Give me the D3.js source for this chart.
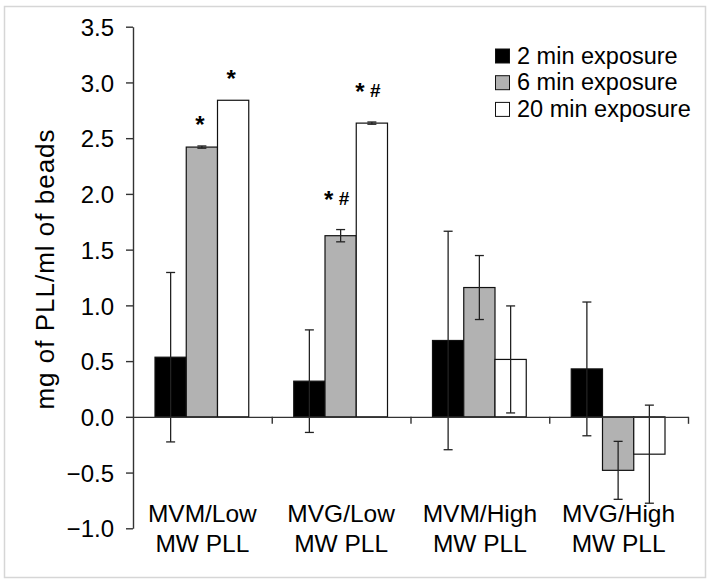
<!DOCTYPE html>
<html>
<head>
<meta charset="utf-8">
<script src="https://cdn.jsdelivr.net/npm/d3@7"></script>
<style>
  html, body { margin: 0; padding: 0; background: #fff; }
  svg { display: block; font-family: "Liberation Sans", Arial, sans-serif; }
</style>
</head>
<body>
<svg id="chart" width="713" height="582"></svg>
<script>
// ---- data ----
const categories = ["MVM/Low MW PLL", "MVG/Low MW PLL", "MVM/High MW PLL", "MVG/High MW PLL"];
const categoryLines = [["MVM/Low", "MW PLL"], ["MVG/Low", "MW PLL"], ["MVM/High", "MW PLL"], ["MVG/High", "MW PLL"]];
const seriesNames = ["2 min exposure", "6 min exposure", "20 min exposure"];
const values2min = [0.535, 0.32, 0.685, 0.43];
const errors2min = [0.76, 0.46, 0.98, 0.60];
const values6min = [2.42, 1.625, 1.16, -0.48];
const errors6min = [0.01, 0.055, 0.287, 0.26];
const values20min = [2.84, 2.635, 0.515, -0.335];
const errors20min = [0, 0.01, 0.48, 0.44];
const annotations6min = ["*", "* #", "", ""];
const annotations20min = ["*", "* #", "", ""];
const yTicks = [-1.0, -0.5, 0.0, 0.5, 1.0, 1.5, 2.0, 2.5, 3.0, 3.5];
const yTitle = "mg of PLL/ml of beads";

const seriesValues = [values2min, values6min, values20min];
const seriesErrors = [errors2min, errors6min, errors20min];
const seriesAnnots = [["", "", "", ""], annotations6min, annotations20min];
const fills = ["#000000", "#b2b2b2", "#ffffff"];

const svg = d3.select("#chart");
const axisColor = "#333";

// frame
svg.append("rect").attr("x", 4.5).attr("y", 6.5).attr("width", 701).attr("height", 571)
  .attr("fill", "none").attr("stroke", "#d6d6d6").attr("stroke-width", 1.5);

const plotLeft = 133, plotRight = 688;
const y = d3.scaleLinear().domain([-1, 3.5]).range([528.3, 26.7]);
const x = d3.scaleBand().domain(categories).range([plotLeft, plotRight]).paddingInner(0).paddingOuter(0);
const inner = d3.scaleBand().domain(seriesNames).range([22, x.bandwidth() - 23]).padding(0);

// bars
const data = [];
categories.forEach((c, i) => {
  seriesNames.forEach((s, j) => {
    data.push({ c, s, j, v: seriesValues[j][i], e: seriesErrors[j][i], a: seriesAnnots[j][i] });
  });
});

const g = svg.append("g");
g.selectAll("rect.bar").data(data).join("rect")
  .attr("class", "bar")
  .attr("x", d => x(d.c) + inner(d.s))
  .attr("width", inner.bandwidth())
  .attr("y", d => Math.min(y(d.v), y(0)))
  .attr("height", d => Math.abs(y(d.v) - y(0)))
  .attr("fill", d => fills[d.j])
  .attr("stroke", "#111").attr("stroke-width", 1.2);

// error bars
const capW = 4.5;
const eb = g.selectAll("g.err").data(data.filter(d => d.e > 0)).join("g").attr("class", "err")
  .attr("stroke", "#222").attr("stroke-width", 1.3);
eb.append("line")
  .attr("x1", d => x(d.c) + inner(d.s) + inner.bandwidth() / 2)
  .attr("x2", d => x(d.c) + inner(d.s) + inner.bandwidth() / 2)
  .attr("y1", d => y(d.v + d.e)).attr("y2", d => y(d.v - d.e));
eb.append("line")
  .attr("x1", d => x(d.c) + inner(d.s) + inner.bandwidth() / 2 - capW)
  .attr("x2", d => x(d.c) + inner(d.s) + inner.bandwidth() / 2 + capW)
  .attr("y1", d => y(d.v + d.e)).attr("y2", d => y(d.v + d.e));
eb.append("line")
  .attr("x1", d => x(d.c) + inner(d.s) + inner.bandwidth() / 2 - capW)
  .attr("x2", d => x(d.c) + inner(d.s) + inner.bandwidth() / 2 + capW)
  .attr("y1", d => y(d.v - d.e)).attr("y2", d => y(d.v - d.e));

// significance annotations
const ann = g.selectAll("text.ann").data(data.filter(d => d.a)).join("text")
  .attr("class", "ann")
  .attr("x", d => x(d.c) + inner(d.s) + inner.bandwidth() / 2 - (d.a.includes("#") ? 4 : 2))
  .attr("y", d => y(d.v + d.e) - (d.a.includes("#") ? 33 : 24) + 9)
  .attr("text-anchor", "middle").attr("fill", "#000");
ann.each(function(d) {
  const t = d3.select(this);
  d.a.split(" ").forEach((part, k) => {
    const ts = t.append("tspan").text((k > 0 ? "\u00a0" : "") + part);
    if (part === "*") ts.attr("font-size", 24).attr("font-weight", "bold").attr("dy", k === 0 ? 2 : 0);
    else ts.attr("font-size", 19).attr("font-weight", "bold").attr("dy", -3);
  });
});

// y axis
const yAxis = d3.axisLeft(y).tickValues(yTicks).tickFormat(d3.format(".1f")).tickSize(7).tickSizeOuter(0).tickPadding(6);
const ya = svg.append("g").attr("transform", `translate(${plotLeft},0)`).call(yAxis);
ya.select(".domain").attr("stroke", axisColor).attr("stroke-width", 1.4);
ya.selectAll(".tick line").attr("stroke", axisColor).attr("stroke-width", 1.4);
ya.selectAll(".tick text").attr("font-size", 24).attr("fill", "#000")
  .attr("font-family", "'Liberation Sans', Arial, sans-serif").attr("x", -19).attr("dy", "0.36em");

// x axis along zero
const xb = d3.scaleLinear().domain([0, categories.length]).range([plotLeft, plotRight]);
const xAxis = d3.axisBottom(xb).tickValues(d3.range(1, categories.length + 1)).tickFormat("").tickSize(7).tickSizeOuter(0);
const xa = svg.append("g").attr("transform", `translate(0,${y(0)})`).call(xAxis);
xa.select(".domain").attr("stroke", axisColor).attr("stroke-width", 1.4);
xa.selectAll(".tick line").attr("stroke", axisColor).attr("stroke-width", 1.4);

// category labels
const cl = svg.append("g").selectAll("text").data(categories).join("text")
  .attr("x", d => x(d) + x.bandwidth() / 2)
  .attr("y", 521.7)
  .attr("text-anchor", "middle").attr("font-size", 24.5).attr("fill", "#000");
cl.each(function(d, i) {
  const t = d3.select(this);
  categoryLines[i].forEach((line, k) => {
    t.append("tspan").attr("x", x(d) + x.bandwidth() / 2).attr("dy", k === 0 ? 0 : 30).text(line);
  });
});

// y title
svg.append("text")
  .attr("transform", `translate(54,269) rotate(-90)`)
  .attr("text-anchor", "middle").attr("font-size", 26).attr("letter-spacing", 1).attr("fill", "#000")
  .text(yTitle);

// legend
const leg = svg.append("g").attr("transform", "translate(495,48.5)");
const li = leg.selectAll("g").data(seriesNames).join("g")
  .attr("transform", (d, i) => `translate(0,${i * 26.7})`);
li.append("rect").attr("x", 0.5).attr("y", 0.5).attr("width", 14).attr("height", 14)
  .attr("fill", (d, i) => fills[i]).attr("stroke", "#111").attr("stroke-width", 1);
li.append("text").attr("x", 22).attr("y", 15).attr("font-size", 23.5).attr("fill", "#000").text(d => d);
</script>
</body>
</html>
